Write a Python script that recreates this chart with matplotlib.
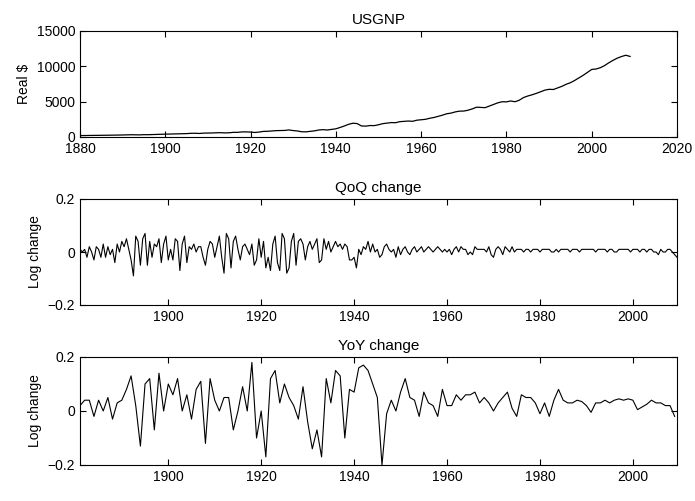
import numpy as np
import matplotlib
matplotlib.use("Agg")
import matplotlib.pyplot as plt

plt.rcParams["font.family"] = ["Liberation Sans", "DejaVu Sans"]
plt.rcParams["font.size"] = 10

# Real GNP level, annual 1880-2009
gnp_years = np.arange(1880, 2010)
gnp_level = [
    200, 210, 220, 225, 230, 235, 245, 255, 260, 270,
    285, 300, 320, 310, 300, 330, 325, 350, 360, 385,
    400, 430, 440, 460, 455, 480, 520, 530, 500, 550,
    560, 570, 600, 610, 580, 600, 660, 660, 720, 720,
    700, 640, 700, 790, 810, 850, 900, 910, 930, 1000,
    910, 850, 740, 730, 800, 870, 990, 1040, 990, 1070,
    1160, 1350, 1560, 1800, 1950, 1900, 1560, 1540, 1620, 1610,
    1730, 1890, 1960, 2040, 2020, 2170, 2210, 2260, 2220, 2380,
    2440, 2500, 2650, 2760, 2920, 3090, 3290, 3380, 3550, 3660,
    3670, 3790, 3980, 4220, 4190, 4150, 4380, 4600, 4840, 4990,
    4970, 5100, 4990, 5200, 5580, 5800, 5970, 6170, 6400, 6630,
    6750, 6720, 6950, 7170, 7460, 7680, 8000, 8370, 8730, 9140,
    9560, 9620, 9800, 10100, 10500, 10850, 11160, 11390, 11570, 11400,
]

# QoQ log change, two readings per year 1881-2009
qoq_t = np.arange(1881, 2010, 0.5)
qoq = [
    0.01, 0.00, 0.01, -0.02, 0.02, 0.00, -0.03, 0.02, 0.01, -0.02,
    0.03, -0.02, 0.02, -0.01, 0.01, -0.04, 0.03, 0.00, 0.04, 0.02,
    0.05, 0.01, -0.03, -0.09, 0.06, 0.04, -0.05, 0.05, 0.07, -0.05,
    0.04, -0.02, 0.03, 0.02, 0.05, -0.04, 0.03, 0.06, -0.03, 0.01,
    -0.03, 0.05, 0.04, -0.07, 0.03, 0.06, -0.04, 0.02, 0.01, 0.03,
    0.00, 0.02, 0.02, -0.02, -0.05, 0.01, 0.04, 0.03, -0.02, 0.02,
    0.06, -0.02, -0.08, 0.07, 0.05, -0.06, 0.04, 0.06, 0.01, -0.03,
    0.02, 0.03, 0.01, -0.01, 0.03, -0.05, -0.03, 0.05, -0.02, 0.04,
    -0.06, -0.02, -0.07, 0.03, 0.06, -0.04, -0.07, 0.07, 0.05, -0.08,
    -0.06, 0.04, 0.07, -0.05, 0.04, 0.05, 0.03, -0.03, 0.02, 0.04,
    0.01, 0.03, 0.05, -0.04, -0.03, 0.05, 0.01, 0.04, 0.00, 0.02,
    0.04, 0.02, 0.03, 0.01, 0.03, 0.02, -0.03, -0.03, -0.02, -0.06,
    0.01, -0.01, 0.02, 0.01, 0.04, 0.00, 0.03, 0.00, 0.01, -0.02,
    -0.01, 0.02, 0.03, 0.01, 0.00, 0.01, -0.02, 0.02, -0.01, 0.01,
    0.02, 0.00, -0.01, 0.01, 0.02, 0.00, 0.01, 0.02, 0.00, 0.01,
    0.02, 0.01, 0.00, 0.01, 0.02, 0.01, 0.00, 0.01, 0.00, 0.01,
    -0.01, 0.01, 0.02, 0.00, 0.02, 0.01, 0.01, -0.01, 0.00, -0.01,
    0.02, 0.01, 0.01, 0.01, 0.01, 0.00, 0.02, -0.01, -0.02, 0.01,
    0.02, 0.01, -0.01, 0.02, 0.01, 0.00, 0.02, 0.00, 0.01, 0.01,
    0.01, 0.00, 0.01, 0.01, 0.00, 0.01, 0.01, 0.01, 0.00, 0.01,
    0.01, 0.01, 0.01, 0.00, 0.00, 0.01, 0.00, 0.01, 0.01, 0.01,
    0.01, 0.00, 0.01, 0.01, 0.01, 0.00, 0.01, 0.01, 0.01, 0.01,
    0.01, 0.01, 0.00, 0.01, 0.01, 0.01, 0.01, 0.00, 0.01, 0.01,
    0.00, 0.00, 0.01, 0.01, 0.01, 0.01, 0.01, 0.00, 0.01, 0.01,
    0.01, 0.00, 0.01, 0.01, 0.00, 0.01, 0.01, 0.00, 0.00, -0.01,
    0.01, 0.00, 0.00, 0.01, 0.01, 0.00, -0.01, -0.02,
]

# YoY log change, annual 1881-2009
yoy_t = np.arange(1881, 2010)
yoy = [
    0.02, 0.04, 0.04, -0.02, 0.04, 0.00, 0.05, -0.03, 0.03,
    0.04, 0.08, 0.13, 0.02, -0.13, 0.10, 0.12, -0.07, 0.14, 0.00,
    0.10, 0.06, 0.12, 0.00, 0.06, -0.03, 0.08, 0.11, -0.12, 0.12,
    0.04, 0.00, 0.05, 0.05, -0.07, 0.00, 0.09, 0.00, 0.18, -0.10,
    0.00, -0.17, 0.12, 0.15, 0.03, 0.10, 0.05, 0.02, -0.03, 0.09,
    -0.04, -0.14, -0.07, -0.17, 0.12, 0.03, 0.15, 0.13, -0.10, 0.08,
    0.07, 0.16, 0.17, 0.15, 0.10, 0.05, -0.20, -0.01, 0.04, 0.00,
    0.07, 0.12, 0.05, 0.04, -0.02, 0.07, 0.03, 0.02, -0.02, 0.08,
    0.02, 0.02, 0.06, 0.04, 0.06, 0.06, 0.07, 0.03, 0.05, 0.03,
    0.00, 0.03, 0.05, 0.07, 0.01, -0.02, 0.06, 0.05, 0.05, 0.03,
    -0.01, 0.03, -0.02, 0.04, 0.08, 0.04, 0.03, 0.03, 0.04, 0.035,
    0.02, -0.005, 0.03, 0.03, 0.04, 0.03, 0.04, 0.045, 0.04, 0.045,
    0.04, 0.005, 0.015, 0.025, 0.04, 0.03, 0.03, 0.02, 0.02, -0.02,
]

W, H = 695, 501
fig = plt.figure(figsize=(W / 100, H / 100), dpi=100)

def box(l, t, r, b):
    return [l / W, 1 - b / H, (r - l) / W, (b - t) / H]

def style(ax):
    ax.tick_params(direction="in", length=4, top=True, right=True, labelsize=10)
    for s in ax.spines.values():
        s.set_linewidth(0.8)

ticks = [1900, 1920, 1940, 1960, 1980, 2000]
neg = ["\u22120.2", "0", "0.2"]

ax1 = fig.add_axes(box(80, 31, 677, 137))
ax1.plot(gnp_years, gnp_level, color="black", lw=0.9)
ax1.set_xlim(1880, 2020)
ax1.set_ylim(0, 15000)
ax1.set_yticks([0, 5000, 10000, 15000])
ax1.set_ylabel("Real $")
ax1.set_title("USGNP", fontsize=11, pad=5)
style(ax1)

ax2 = fig.add_axes(box(80, 199, 677, 305))
ax2.plot(qoq_t, qoq, color="black", lw=0.8)
ax2.set_xlim(1881, 2009.5)
ax2.set_ylim(-0.2, 0.2)
ax2.set_yticks([-0.2, 0, 0.2])
ax2.set_yticklabels(neg)
ax2.set_xticks(ticks)
ax2.set_ylabel("Log change")
ax2.set_title("QoQ change", fontsize=11, pad=5)
style(ax2)

ax3 = fig.add_axes(box(80, 357, 677, 465))
ax3.plot(yoy_t, yoy, color="black", lw=0.8)
ax3.set_xlim(1881, 2009.5)
ax3.set_ylim(-0.2, 0.2)
ax3.set_yticks([-0.2, 0, 0.2])
ax3.set_yticklabels(neg)
ax3.set_xticks(ticks)
ax3.set_ylabel("Log change")
ax3.set_title("YoY change", fontsize=11, pad=5)
style(ax3)

fig.savefig("out.png", dpi=100)
